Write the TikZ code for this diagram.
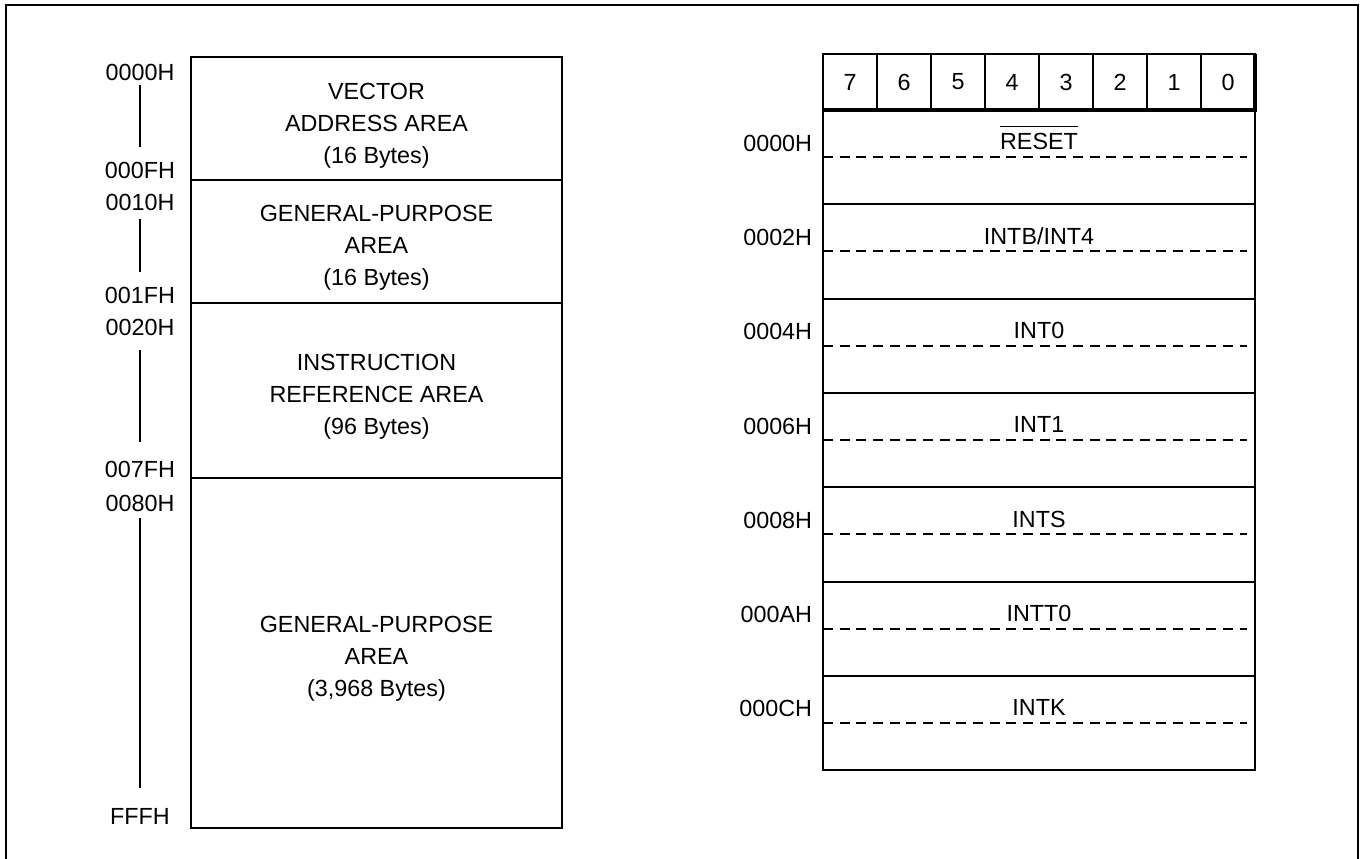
\documentclass[tikz,border=0pt]{standalone}
\usepackage{fontspec}
\setmainfont{Liberation Sans}
\usetikzlibrary{positioning}

\begin{document}
\begin{tikzpicture}[
    x=0.75pt, y=-0.75pt,
    every node/.style={font=\fontsize{17.5}{24}\selectfont, align=center},
    frame/.style={line width=2pt},
    area/.style={draw, line width=1.5pt, minimum width=278.25pt, inner sep=0pt, outer sep=0pt},
    adr/.style={inner sep=0pt},
    span/.style={line width=1.5pt},
    bitcell/.style={draw, line width=1.2pt, minimum width=40.5pt, minimum height=42pt, inner sep=0pt, outer sep=0pt},
    slot/.style={draw, line width=1.5pt, minimum width=324pt, minimum height=70.725pt, inner sep=0pt, outer sep=0pt},
    split/.style={line width=1.5pt, dash pattern=on 7.5pt off 5pt}
]
\useasboundingbox (0,0) rectangle (1361,859);
\draw[frame] (6,870) -- (6,5) -- (1358,5) -- (1358,870);

% mappa della memoria a sinistra
\node[area, minimum height=92.25pt] (vec) at (376.5,118.5) {};
\node[area, minimum height=92.25pt] (gp1) at (376.5,241.5) {};
\node[area, minimum height=131.25pt] (ins) at (376.5,390.5) {};
\node[area, minimum height=262.5pt] (gp2) at (376.5,653) {};
\node (vect) at ([yshift=-5.5pt]vec.center) {VECTOR\\ADDRESS AREA\\(16 Bytes)};
\node (gp1t) at ([yshift=-4.5pt]gp1.center) {GENERAL-PURPOSE\\AREA\\(16 Bytes)};
\node (inst) at ([yshift=-5pt]ins.center) {INSTRUCTION\\REFERENCE AREA\\(96 Bytes)};
\node (gp2t) at ([yshift=-4pt]gp2.center) {GENERAL-PURPOSE\\AREA\\(3,968 Bytes)};

\foreach \n/\y in {0000H/72, 000FH/170, 0010H/202, 001FH/295, 0020H/327, 007FH/469, 0080H/503, FFFH/816}
    \node[adr] (a\n) at (140,\y) {\n};
\foreach \a/\b/\s/\e in {0000H/000FH/3pt/11pt, 0010H/001FH/6pt/10.5pt, 0020H/007FH/11pt/13.5pt, 0080H/FFFH/5pt/15pt}
    \draw[span, shorten <=\s, shorten >=\e] (a\a.south) -- (a\a.south |- a\b.north);

% tabella dei vettori a destra
\foreach \b [count=\i from 0] in {7,6,5,4,3,2,1,0}
    \node[bitcell] (h\b) at (850+54*\i, 82) {\b};
\draw[line width=2.6pt] (h0.north east) -- (h0.south east) -- (h7.south west);

\foreach \adr/\txt [count=\i from 0] in {0000H/{$\overline{\mbox{\rule{0pt}{16pt}RESET}}$}, 0002H/{INTB/INT4}, 0004H/INT0, 0006H/INT1, 0008H/INTS, 000AH/INTT0, 000CH/INTK} {
    \node[slot] (r\i) at (1039, 157.15+94.3*\i) {};
    \draw[split, shorten >=6pt] (r\i.west) -- (r\i.east);
    \node[anchor=base] (t\i) at ([yshift=5.5pt]r\i.center) {\txt};
    \node[adr, anchor=east] (s\i) at ([xshift=-8pt, yshift=10.5pt]r\i.west) {\adr};
}
\end{tikzpicture}
\end{document}
